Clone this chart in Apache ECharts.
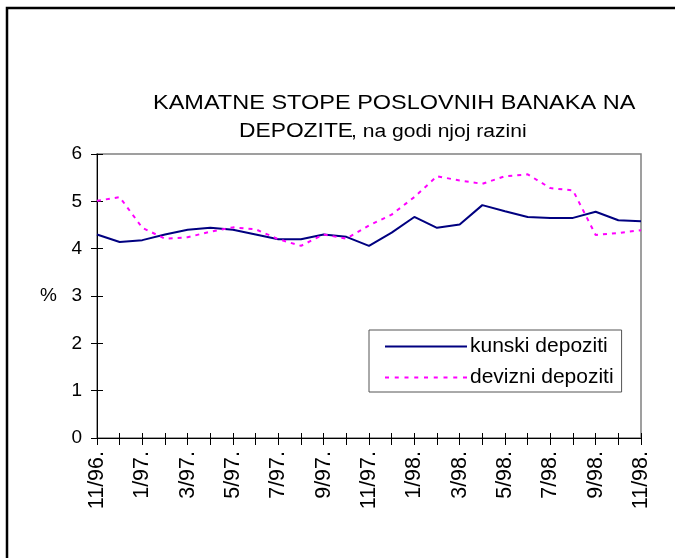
<!DOCTYPE html>
<html>
<head>
<meta charset="utf-8">
<script src="https://cdn.jsdelivr.net/npm/echarts@6/dist/echarts.min.js"></script>
<style>
  html, body { margin: 0; padding: 0; background: #fff; }
  #chart { width: 675px; height: 558px; }
</style>
</head>
<body>
<div id="chart"></div>
<script>
// Monthly categories, 11/96 – 11/98
const months = [
  '11/96.', '12/96.', '1/97.', '2/97.', '3/97.', '4/97.', '5/97.', '6/97.',
  '7/97.', '8/97.', '9/97.', '10/97.', '11/97.', '12/97.', '1/98.', '2/98.',
  '3/98.', '4/98.', '5/98.', '6/98.', '7/98.', '8/98.', '9/98.', '10/98.', '11/98.'
];

// Annual interest rates on deposits (%)
const kunskiDepoziti = [
  4.30, 4.14, 4.18, 4.30, 4.40, 4.44, 4.40, 4.30, 4.20, 4.20, 4.30, 4.25, 4.06,
  4.34, 4.67, 4.44, 4.51, 4.92, 4.79, 4.67, 4.65, 4.65, 4.78, 4.60, 4.58
];
const devizniDepoziti = [
  5.01, 5.09, 4.44, 4.21, 4.24, 4.36, 4.45, 4.41, 4.20, 4.06, 4.30, 4.21, 4.49,
  4.72, 5.09, 5.53, 5.44, 5.37, 5.53, 5.57, 5.28, 5.23, 4.29, 4.33, 4.39
];

const yTicks = { min: 0, max: 6, interval: 1 };

const FONT = '"Liberation Sans", Arial, sans-serif';

// Legend keys: a solid bar and a row of short dashes, 82 x 2 units each
const solidKey = 'path://M0,0H82V2H0Z';
let dashKey = 'path://';
for (let i = 0; i < 9; i++) {
  const x0 = (i * 78 / 8).toFixed(2);
  const x1 = (i * 78 / 8 + 4).toFixed(2);
  dashKey += 'M' + x0 + ',0H' + x1 + 'V2H' + x0 + 'Z';
}

const chart = echarts.init(document.getElementById('chart'), null, { renderer: 'canvas' });

const option = {
  backgroundColor: '#ffffff',
  animation: false,
  grid: {
    left: 97, right: 34, top: 154, bottom: 120,
    show: true, borderColor: '#808080', borderWidth: 1.5, backgroundColor: 'transparent'
  },
  legend: {
    orient: 'vertical',
    left: 369, top: 330,
    padding: [6, 8, 4, 16],
    itemWidth: 82, itemHeight: 2, itemGap: 10,
    borderColor: '#555', borderWidth: 1,
    textStyle: { fontFamily: FONT, fontSize: 21, color: '#000', lineHeight: 20, padding: [0, 0, 0, -2] },
    data: [
      { name: 'kunski depoziti', icon: solidKey, itemStyle: { color: '#000080' } },
      { name: 'devizni depoziti', icon: dashKey, itemStyle: { color: '#ff00ff' } }
    ]
  },
  xAxis: [
    {
      type: 'category', data: months, boundaryGap: false, position: 'bottom',
      axisLine: { show: true, lineStyle: { color: '#000', width: 1 } },
      axisTick: { show: true, interval: 0, length: 7, lineStyle: { color: '#000' } },
      axisLabel: { interval: 1, rotate: 90, margin: 13, color: '#000', fontFamily: FONT, fontSize: 21.5 },
      splitLine: { show: false }
    },
    {
      type: 'category', data: months, boundaryGap: false, position: 'bottom',
      axisLine: { show: false },
      axisTick: { show: true, inside: true, interval: 0, length: 5, lineStyle: { color: '#000' } },
      axisLabel: { show: false },
      splitLine: { show: false }
    }
  ],
  yAxis: [
    {
      type: 'value', position: 'left', min: yTicks.min, max: yTicks.max, interval: yTicks.interval,
      axisLine: { show: true, lineStyle: { color: '#000', width: 1 } },
      axisTick: { show: true, length: 6, lineStyle: { color: '#000' } },
      axisLabel: { margin: 15, color: '#000', fontFamily: FONT, fontSize: 19 },
      splitLine: { show: false }
    },
    {
      type: 'value', position: 'left', min: yTicks.min, max: yTicks.max, interval: yTicks.interval,
      axisLine: { show: false },
      axisTick: { show: true, inside: true, length: 6, lineStyle: { color: '#000' } },
      axisLabel: { show: false },
      splitLine: { show: false }
    }
  ],
  series: [
    {
      name: 'kunski depoziti', type: 'line', data: kunskiDepoziti,
      xAxisIndex: 0, yAxisIndex: 0, symbol: 'none',
      lineStyle: { color: '#000080', width: 2 },
      itemStyle: { color: '#000080' }
    },
    {
      name: 'devizni depoziti', type: 'line', data: devizniDepoziti,
      xAxisIndex: 0, yAxisIndex: 0, symbol: 'none',
      lineStyle: { color: '#ff00ff', width: 2, type: [4, 5] },
      itemStyle: { color: '#ff00ff' }
    }
  ],
  graphic: [
    // chart frame
    {
      type: 'rect', silent: true, z: 100,
      shape: { x: 7, y: 8, width: 800, height: 800 },
      style: { fill: 'none', stroke: '#000', lineWidth: 2.5 }
    },
    // title
    {
      type: 'text', x: 153, y: 103, scaleX: 1.175,
      style: { text: 'KAMATNE STOPE POSLOVNIH BANAKA NA', font: '20px ' + FONT,
               fill: '#000', textAlign: 'left', textVerticalAlign: 'middle' }
    },
    {
      type: 'text', x: 239, y: 131, scaleX: 1.14,
      style: { text: 'DEPOZITE', font: '20px ' + FONT,
               fill: '#000', textAlign: 'left', textVerticalAlign: 'middle' }
    },
    {
      type: 'text', x: 351, y: 132, scaleX: 1.17,
      style: { text: ', na godi njoj razini', font: '18px ' + FONT,
               fill: '#000', textAlign: 'left', textVerticalAlign: 'middle' }
    },
    // value axis unit
    {
      type: 'text', x: 40, y: 296,
      style: { text: '%', font: '19px ' + FONT, fill: '#000',
               textAlign: 'left', textVerticalAlign: 'middle' }
    }
  ]
};

chart.setOption(option);
</script>
</body>
</html>
